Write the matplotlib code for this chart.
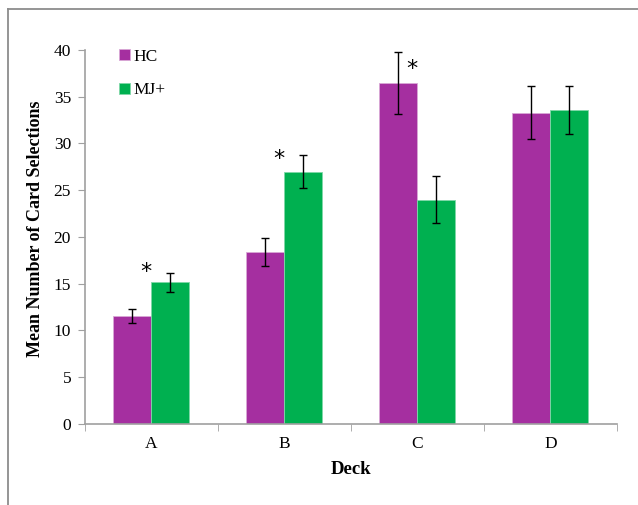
import numpy as np
import matplotlib.pyplot as plt

plt.rcParams['font.family'] = ['Liberation Serif', 'DejaVu Serif']

# data
decks = ['A', 'B', 'C', 'D']
hc_mean = [11.5, 18.4, 36.5, 33.3]
hc_err = [0.75, 1.5, 3.3, 2.8]
mj_mean = [15.15, 27.0, 24.0, 33.6]
mj_err = [1.05, 1.8, 2.55, 2.6]
# asterisks for significant differences (deck index, height)
star_deck = [0, 1, 2]
star_height = [16.3, 28.3, 38.0]

hc_color = '#A52FA0'
mj_color = '#00B050'

fig = plt.figure(figsize=(6.38, 5.05), dpi=100)
ax = fig.add_axes([0.1332, 0.1604, 0.967 - 0.1332, 0.901 - 0.1604])

# outer frame (only top and left edges visible in the reference)
fig.add_artist(plt.Line2D([8 / 638, 8 / 638], [0, 1 - 9 / 505], transform=fig.transFigure,
                          color='#8c8c8c', lw=1.3))
fig.add_artist(plt.Line2D([8 / 638, 1], [1 - 9 / 505, 1 - 9 / 505], transform=fig.transFigure,
                          color='#8c8c8c', lw=1.3))

x = np.arange(len(decks))
w = 1 / 3.5
ax.bar(x - w / 2, hc_mean, w, color=hc_color, edgecolor='#d9a8d6', lw=0.6, label='HC',
       yerr=hc_err, error_kw=dict(ecolor='black', elinewidth=1, capsize=3, capthick=1))
ax.bar(x + w / 2, mj_mean, w, color=mj_color, edgecolor='#7fd8a8', lw=0.6, label='MJ+',
       yerr=mj_err, error_kw=dict(ecolor='black', elinewidth=1, capsize=3, capthick=1))

for d, h in zip(star_deck, star_height):
    ax.text(d - 0.04, h, '*', ha='center', va='center', fontsize=16, fontfamily='DejaVu Sans')

ax.set_xlim(-0.5, 3.5)
ax.set_ylim(0, 40)
ax.set_yticks(range(0, 41, 5))
ax.set_xticks(x)
ax.set_xticklabels(decks)
ax.set_xticks(np.arange(-0.5, 4, 1), minor=True)
ax.tick_params(axis='x', which='major', length=0, labelsize=12.5, pad=9)
ax.tick_params(axis='x', which='minor', length=5, color='#a0a0a0', direction='out')
ax.tick_params(axis='y', length=5, color='#a0a0a0', labelsize=12.5, pad=5)

for s in ['top', 'right']:
    ax.spines[s].set_visible(False)
for s in ['left', 'bottom']:
    ax.spines[s].set_color('#a0a0a0')
    ax.spines[s].set_linewidth(1.2)

ax.set_xlabel('Deck', fontsize=13.5, fontweight='bold', labelpad=6)
ax.set_ylabel('Mean Number of Card Selections', fontsize=13, fontweight='bold', labelpad=7)
ax.yaxis.label.set_y(0.521)

ax.legend(loc='upper left', bbox_to_anchor=(0.035, 1.045), frameon=False, fontsize=12.5,
          handlelength=0.6, handleheight=0.6, handletextpad=0.2, labelspacing=1.0)

fig.savefig('out.png', dpi=100)
